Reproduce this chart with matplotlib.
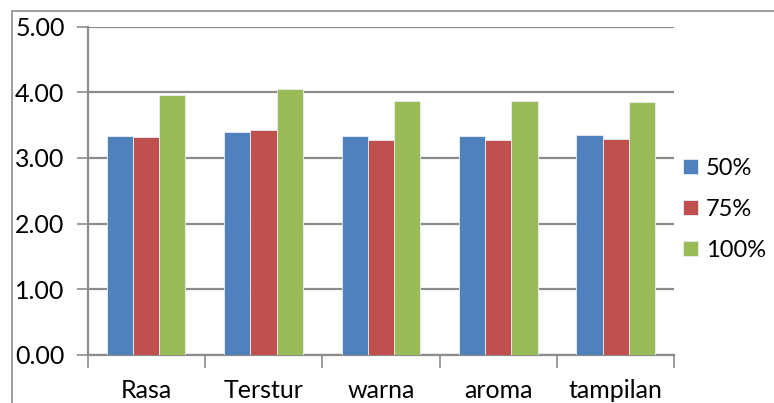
import numpy as np
import matplotlib.pyplot as plt
from matplotlib.patches import Rectangle

categories = ["Rasa", "Terstur", "warna", "aroma", "tampilan"]
series_names = ["50%", "75%", "100%"]
vals_50 = [3.33, 3.40, 3.33, 3.34, 3.35]
vals_75 = [3.32, 3.42, 3.27, 3.28, 3.29]
vals_100 = [3.95, 4.05, 3.87, 3.86, 3.85]
colors = ["#4F81BD", "#C0504D", "#9BBB59"]

W, H = 774, 403
fig = plt.figure(figsize=(W / 100, H / 100), dpi=100)
plt.rcParams['font.family'] = ["Lato", "DejaVu Sans"]

# plot area in pixels: x 87.5..674.3, y 26..355
left, right, top, bottom = 87.5, 674.3, 26.5, 355
ax = fig.add_axes([left / W, 1 - bottom / H, (right - left) / W, (bottom - top) / H])

x = np.arange(len(categories))
bw = 0.223
for i, (name, vals) in enumerate(zip(series_names, [vals_50, vals_75, vals_100])):
    ax.bar(x + (i - 1) * bw, vals, bw, color=colors[i], label=name,
           edgecolor="#e8eef5", linewidth=0.6, zorder=3)

ax.set_xlim(-0.5, len(categories) - 0.5)
ax.set_ylim(0, 5)
ax.set_yticks(np.arange(0, 5.01, 1))
ax.set_yticklabels(["%.2f" % v for v in np.arange(0, 5.01, 1)], fontsize=18)
ax.yaxis.grid(True, color="#8c8c8c", linewidth=1.6, zorder=0)
ax.set_axisbelow(True)

ax.set_xticks(np.arange(-0.5, len(categories), 1.0))
ax.set_xticklabels([])
ax.set_xticks(x, minor=True)
ax.set_xticklabels(categories, minor=True, fontsize=18)
ax.tick_params(axis="x", which="minor", length=0, pad=17)
ax.tick_params(axis="x", which="major", length=9, width=1.2, color="#8c8c8c")
ax.tick_params(axis="y", length=8, width=1.2, color="#8c8c8c", pad=8.5)

for s in ["top", "right"]:
    ax.spines[s].set_visible(False)
for s in ["left", "bottom"]:
    ax.spines[s].set_color("#8c8c8c")
    ax.spines[s].set_linewidth(1.6)

ax.legend(loc="center left", bbox_to_anchor=(0.995, 0.444), frameon=False,
          fontsize=17, handlelength=0.62, handleheight=0.62, handletextpad=0.35,
          labelspacing=0.85, borderaxespad=0.1)

# outer chart border (partly cropped)
fig.patches.append(Rectangle((11.5 / W, -0.1), 1.2, 1 - 11 / H + 0.1,
                             transform=fig.transFigure, fill=False,
                             edgecolor="#8c8c8c", linewidth=1.2))

fig.savefig("out.png", dpi=100)
